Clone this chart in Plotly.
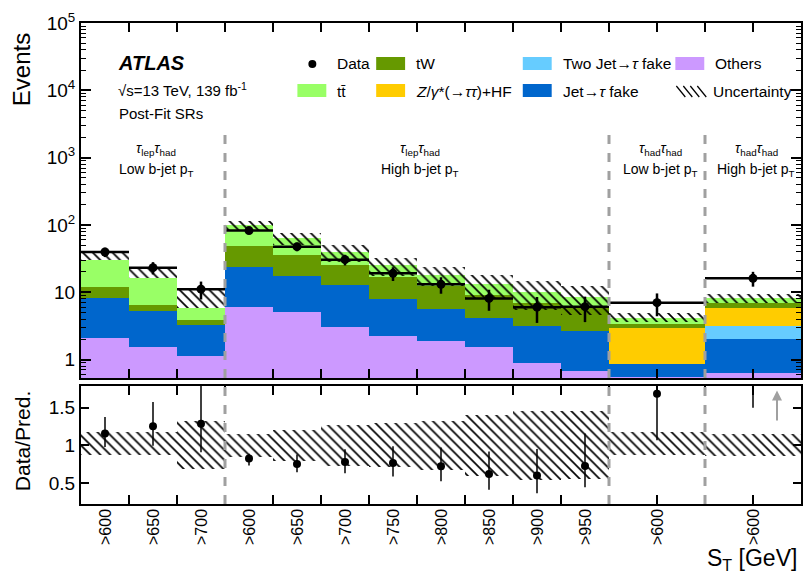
import numpy as np
import plotly.graph_objects as go
from plotly.subplots import make_subplots

# ---------------- data ----------------
bin_labels = [">600", ">650", ">700", ">600", ">650", ">700", ">750", ">800",
              ">850", ">900", ">950", ">600", ">600"]
bin_lo = [0, 1, 2, 3, 4, 5, 6, 7, 8, 9, 10, 11, 13]
bin_hi = [1, 2, 3, 4, 5, 6, 7, 8, 9, 10, 11, 13, 15]

region_edges = [0, 3, 11, 13, 15]
region_top = ["<i>τ</i><sub>lep</sub><i>τ</i><sub>had</sub>",
              "<i>τ</i><sub>lep</sub><i>τ</i><sub>had</sub>",
              "<i>τ</i><sub>had</sub><i>τ</i><sub>had</sub>",
              "<i>τ</i><sub>had</sub><i>τ</i><sub>had</sub>"]
region_bottom = ["Low b-jet p<sub>T</sub>", "High b-jet p<sub>T</sub>",
                 "Low b-jet p<sub>T</sub>", "High b-jet p<sub>T</sub>"]

others       = [2.08, 1.55, 1.14, 6.05, 5.10, 3.06, 2.25, 1.90, 1.52, 0.90, 0.68, 0.55, 0.64]
jet_fake     = [6.22, 3.73, 2.14, 17.65, 12.3, 9.64, 5.65, 3.70, 2.68, 2.20, 1.97, 0.30, 1.36]
two_jet_fake = [0, 0, 0, 0, 0, 0, 0, 0, 0, 0, 0, 0, 1.20]
z_hf         = [0, 0, 0, 0, 0, 0, 0, 0, 0, 0, 0, 2.05, 2.60]
tw           = [3.70, 1.12, 0.57, 24.8, 18.3, 12.7, 9.10, 6.60, 4.80, 3.80, 3.65, 0.50, 1.10]
ttbar        = [22.2, 12.1, 4.75, 51.5, 27.3, 13.6, 8.00, 5.90, 4.10, 3.10, 2.10, 0.75, 1.20]

data     = [39.6, 23.2, 11.1, 82.4, 47.6, 30.5, 19.1, 13.1, 8.1, 6.0, 6.1, 7.0, 16.1]
data_err = [6.3, 4.8, 3.3, 9.1, 6.9, 5.5, 4.4, 3.6, 2.8, 2.5, 2.5, 2.6, 4.0]

ratio        = [1.158, 1.256, 1.287, 0.824, 0.753, 0.780, 0.767, 0.722, 0.620, 0.598, 0.727, 1.687, 2.04]
ratio_err_up = [0.22, 0.32, 0.60, 0.063, 0.125, 0.17, 0.22, 0.25, 0.30, 0.355, 0.43, 0.50, 0.30]
ratio_err_dn = [0.18, 0.26, 0.38, 0.093, 0.11, 0.15, 0.18, 0.20, 0.21, 0.236, 0.285, 0.62, 0.54]

band_lo = [0.873, 0.873, 0.687, 0.851, 0.798, 0.731, 0.709, 0.673, 0.598, 0.540, 0.553, 0.873, 0.864]
band_hi = [1.184, 1.184, 1.318, 1.153, 1.198, 1.273, 1.300, 1.330, 1.398, 1.464, 1.451, 1.184, 1.153]

# ---------------- derived ----------------
lo = np.array(bin_lo, float)
hi = np.array(bin_hi, float)
centers = (lo + hi) / 2
widths = hi - lo

components = [
    ("Others", others, "#CC99FF"),
    ("Jet→τ fake", jet_fake, "#0066CC"),
    ("Two Jet→τ fake", two_jet_fake, "#66CCFF"),
    ("Z+HF", z_hf, "#FFCC00"),
    ("tW", tw, "#669900"),
    ("ttbar", ttbar, "#99FF66"),
]
pred = np.sum([np.array(c[1]) for c in components], axis=0)

FONT = "Liberation Sans, Arial, Helvetica, sans-serif"
W, H = 804, 575
L, R, T, B = 81, 1, 23, 71
PW, PH = W - L - R, H - T - B
MAIN_TOP, MAIN_BOT = 23, 378
RAT_TOP, RAT_BOT = 386, 504


def px_x(p):
    return (p - L) / PW


def px_y(p):
    return (H - B - p) / PH


fig = make_subplots(rows=2, cols=1, shared_xaxes=True)

# stacked components (explicit bases)
cum = np.zeros(len(centers))
for i, (name, vals, col) in enumerate(components):
    v = np.array(vals, float)
    fig.add_trace(go.Bar(
        x=centers, y=v, width=widths, base=(cum if i > 0 else None),
        marker=dict(color=col, line=dict(width=0)), showlegend=False,
        hoverinfo="skip"), row=1, col=1)
    cum = cum + v

# uncertainty hatch (main)
hatch_bg = ["white" if h <= 3 else "rgba(0,0,0,0)" for h in bin_hi]
fig.add_trace(go.Bar(
    x=centers, y=pred * (np.array(band_hi) - np.array(band_lo)), base=pred * np.array(band_lo),
    width=widths,
    marker=dict(color="rgba(0,0,0,0)", line=dict(width=0),
                pattern=dict(shape="\\", fgcolor="black", bgcolor=hatch_bg,
                             size=7, solidity=0.24, fillmode="replace")),
    showlegend=False, hoverinfo="skip"), row=1, col=1)

# data (main)
fig.add_trace(go.Scatter(
    x=centers, y=data, mode="markers",
    marker=dict(color="black", size=9),
    error_y=dict(type="data", array=data_err, thickness=2.5, width=0, color="black"),
    error_x=dict(type="data", array=widths / 2, thickness=2.5, width=0, color="black"),
    showlegend=False), row=1, col=1)

# ratio band
fig.add_trace(go.Bar(
    x=centers, y=np.array(band_hi) - np.array(band_lo), base=band_lo, width=widths,
    marker=dict(color="rgba(0,0,0,0)", line=dict(width=0),
                pattern=dict(shape="\\", fgcolor="black", bgcolor="rgba(0,0,0,0)",
                             size=7, solidity=0.24, fillmode="replace")),
    showlegend=False, hoverinfo="skip"), row=2, col=1)

# ratio data
fig.add_trace(go.Scatter(
    x=centers, y=ratio, mode="markers",
    marker=dict(color="black", size=8),
    error_y=dict(type="data", array=ratio_err_up, arrayminus=ratio_err_dn,
                 thickness=1.5, width=0, color="black"),
    showlegend=False), row=2, col=1)

fig.update_layout(barmode="overlay", bargap=0,
                  width=W, height=H,
                  margin=dict(l=L, r=R, t=T, b=B),
                  plot_bgcolor="white", paper_bgcolor="white",
                  font=dict(family=FONT, color="black"))

axis_common = dict(showline=True, linewidth=2, linecolor="black", mirror="ticks",
                   showgrid=False, zeroline=False, tickcolor="black")

fig.update_xaxes(range=[0, 15], tickvals=list(range(16)), showticklabels=False,
                 ticks="inside", ticklen=9, tickwidth=1.5, **axis_common)
fig.layout.xaxis.domain = [0, 1]
fig.layout.xaxis2.domain = [0, 1]

minor_vals = [m * 10 ** e for e in range(-1, 5) for m in range(2, 10)]
fig.update_yaxes(type="log", range=[np.log10(0.532), 5],
                 tickvals=[1, 10, 100, 1e3, 1e4, 1e5],
                 ticktext=["1", "10", "10<sup>2</sup>", "10<sup>3</sup>", "10<sup>4</sup>", "10<sup>5</sup>"],
                 ticks="inside", ticklen=10, tickwidth=1.5,
                 minor=dict(tickvals=minor_vals, ticks="inside", ticklen=5, tickwidth=1,
                            tickcolor="black", showgrid=False),
                 tickfont=dict(size=19, family=FONT),
                 domain=[px_y(MAIN_BOT), px_y(MAIN_TOP)],
                 row=1, col=1, **axis_common)
fig.update_yaxes(range=[0.22, 1.79], tickvals=[0.5, 1, 1.5], ticktext=["0.5", "1", "1.5"],
                 ticks="inside", ticklen=8, tickwidth=1.5,
                 tickfont=dict(size=19, family=FONT),
                 domain=[px_y(RAT_BOT), px_y(RAT_TOP)],
                 row=2, col=1, **axis_common)

shapes = []
# region separators
for e in region_edges[1:-1]:
    shapes.append(dict(type="line", xref="x", yref="y domain", x0=e, x1=e,
                       y0=0, y1=(MAIN_BOT - 130) / (MAIN_BOT - MAIN_TOP),
                       line=dict(color="#A0A0A0", width=3, dash="dash")))
    shapes.append(dict(type="line", xref="x2", yref="y2 domain", x0=e, x1=e, y0=0, y1=1,
                       line=dict(color="#A0A0A0", width=3, dash="dash")))

annotations = []
# region labels
for i in range(len(region_top)):
    xc = (region_edges[i] + region_edges[i + 1]) / 2
    annotations.append(dict(x=xc, y=px_y(149), xref="x", yref="paper", text=region_top[i],
                            showarrow=False, xanchor="center", yanchor="middle", xshift=3,
                            font=dict(size=14, family=FONT)))
    annotations.append(dict(x=xc, y=px_y(170), xref="x", yref="paper", text=region_bottom[i],
                            showarrow=False, xanchor="center", yanchor="middle", xshift=3,
                            font=dict(size=14, family=FONT)))

# x tick labels (rotated)
for c, lab in zip(centers, bin_labels):
    annotations.append(dict(x=c, y=px_y(507), xref="x2", yref="paper", text=lab,
                            showarrow=False, textangle=-90, xanchor="center", yanchor="top",
                            font=dict(size=16, family=FONT)))

# off-scale arrow in ratio panel
annotations.append(dict(x=14.5, y=1.73, ax=14.5, ay=1.31, xref="x2", yref="y2",
                        axref="x2", ayref="y2", text="", showarrow=True,
                        arrowhead=2, arrowsize=1, arrowwidth=2, arrowcolor="#A0A0A0"))

# axis titles
annotations.append(dict(x=px_x(22), y=px_y(70), xref="paper", yref="paper", text="Events",
                        textangle=-90, showarrow=False, xanchor="center", yanchor="middle",
                        font=dict(size=24, family=FONT)))
annotations.append(dict(x=px_x(23), y=px_y(441), xref="paper", yref="paper", text="Data/Pred.",
                        textangle=-90, showarrow=False, xanchor="center", yanchor="middle",
                        font=dict(size=21, family=FONT)))
annotations.append(dict(x=px_x(801), y=px_y(559), xref="paper", yref="paper",
                        text="S<sub>T</sub> [GeV]", showarrow=False, xanchor="right",
                        yanchor="middle", font=dict(size=23, family=FONT)))

# ATLAS label
annotations.append(dict(x=px_x(116), y=px_y(63), xref="paper", yref="paper",
                        text="<b><i>ATLAS</i></b>", showarrow=False, xanchor="left",
                        yanchor="middle", font=dict(size=20, family=FONT)))
annotations.append(dict(x=px_x(116), y=px_y(89), xref="paper", yref="paper",
                        text="√s=13 TeV, 139 fb<sup>-1</sup>", showarrow=False, xanchor="left",
                        yanchor="middle", font=dict(size=15, family=FONT)))
annotations.append(dict(x=px_x(117), y=px_y(114), xref="paper", yref="paper",
                        text="Post-Fit SRs", showarrow=False, xanchor="left",
                        yanchor="middle", font=dict(size=15, family=FONT)))

# legend (manual)
legend_boxes = [
    (377, 64, "#669900", "tW"),
    (524, 64, "#66CCFF", "Two Jet→<i>τ</i> fake"),
    (677, 64, "#CC99FF", "Others"),
    (298, 91, "#99FF66", "tt̄"),
    (377, 91, "#FFCC00", "<i>Z</i>/<i>γ</i>*(→<i>ττ</i>)+HF"),
    (524, 91, "#0066CC", "Jet→<i>τ</i> fake"),
]
for x0, yc, col, txt in legend_boxes:
    shapes.append(dict(type="rect", xref="paper", yref="paper",
                       x0=px_x(x0), x1=px_x(x0 + 29), y0=px_y(yc + 6), y1=px_y(yc - 7),
                       fillcolor=col, line=dict(width=0)))
    annotations.append(dict(x=px_x(x0 + 38 if x0 != 298 else 336), y=px_y(yc), xref="paper",
                            yref="paper", text=txt, showarrow=False, xanchor="left",
                            yanchor="middle", font=dict(size=15.5, family=FONT)))
# data legend entry
shapes.append(dict(type="circle", xref="paper", yref="paper",
                   x0=px_x(309), x1=px_x(317), y0=px_y(68), y1=px_y(60),
                   fillcolor="black", line=dict(width=0)))
annotations.append(dict(x=px_x(336), y=px_y(64), xref="paper", yref="paper", text="Data",
                        showarrow=False, xanchor="left", yanchor="middle",
                        font=dict(size=15.5, family=FONT)))
# uncertainty legend entry
for k in range(4):
    xs = 678 + k * 7
    shapes.append(dict(type="line", xref="paper", yref="paper",
                       x0=px_x(xs), x1=px_x(xs + 9), y0=px_y(86), y1=px_y(97),
                       line=dict(color="black", width=1.2)))
annotations.append(dict(x=px_x(713), y=px_y(91), xref="paper", yref="paper", text="Uncertainty",
                        showarrow=False, xanchor="left", yanchor="middle",
                        font=dict(size=15.5, family=FONT)))

fig.update_layout(shapes=shapes, annotations=annotations)
fig.write_html("out.html", config={"displayModeBar": False},
               post_script="document.body.style.margin='0';document.body.style.padding='0';")
